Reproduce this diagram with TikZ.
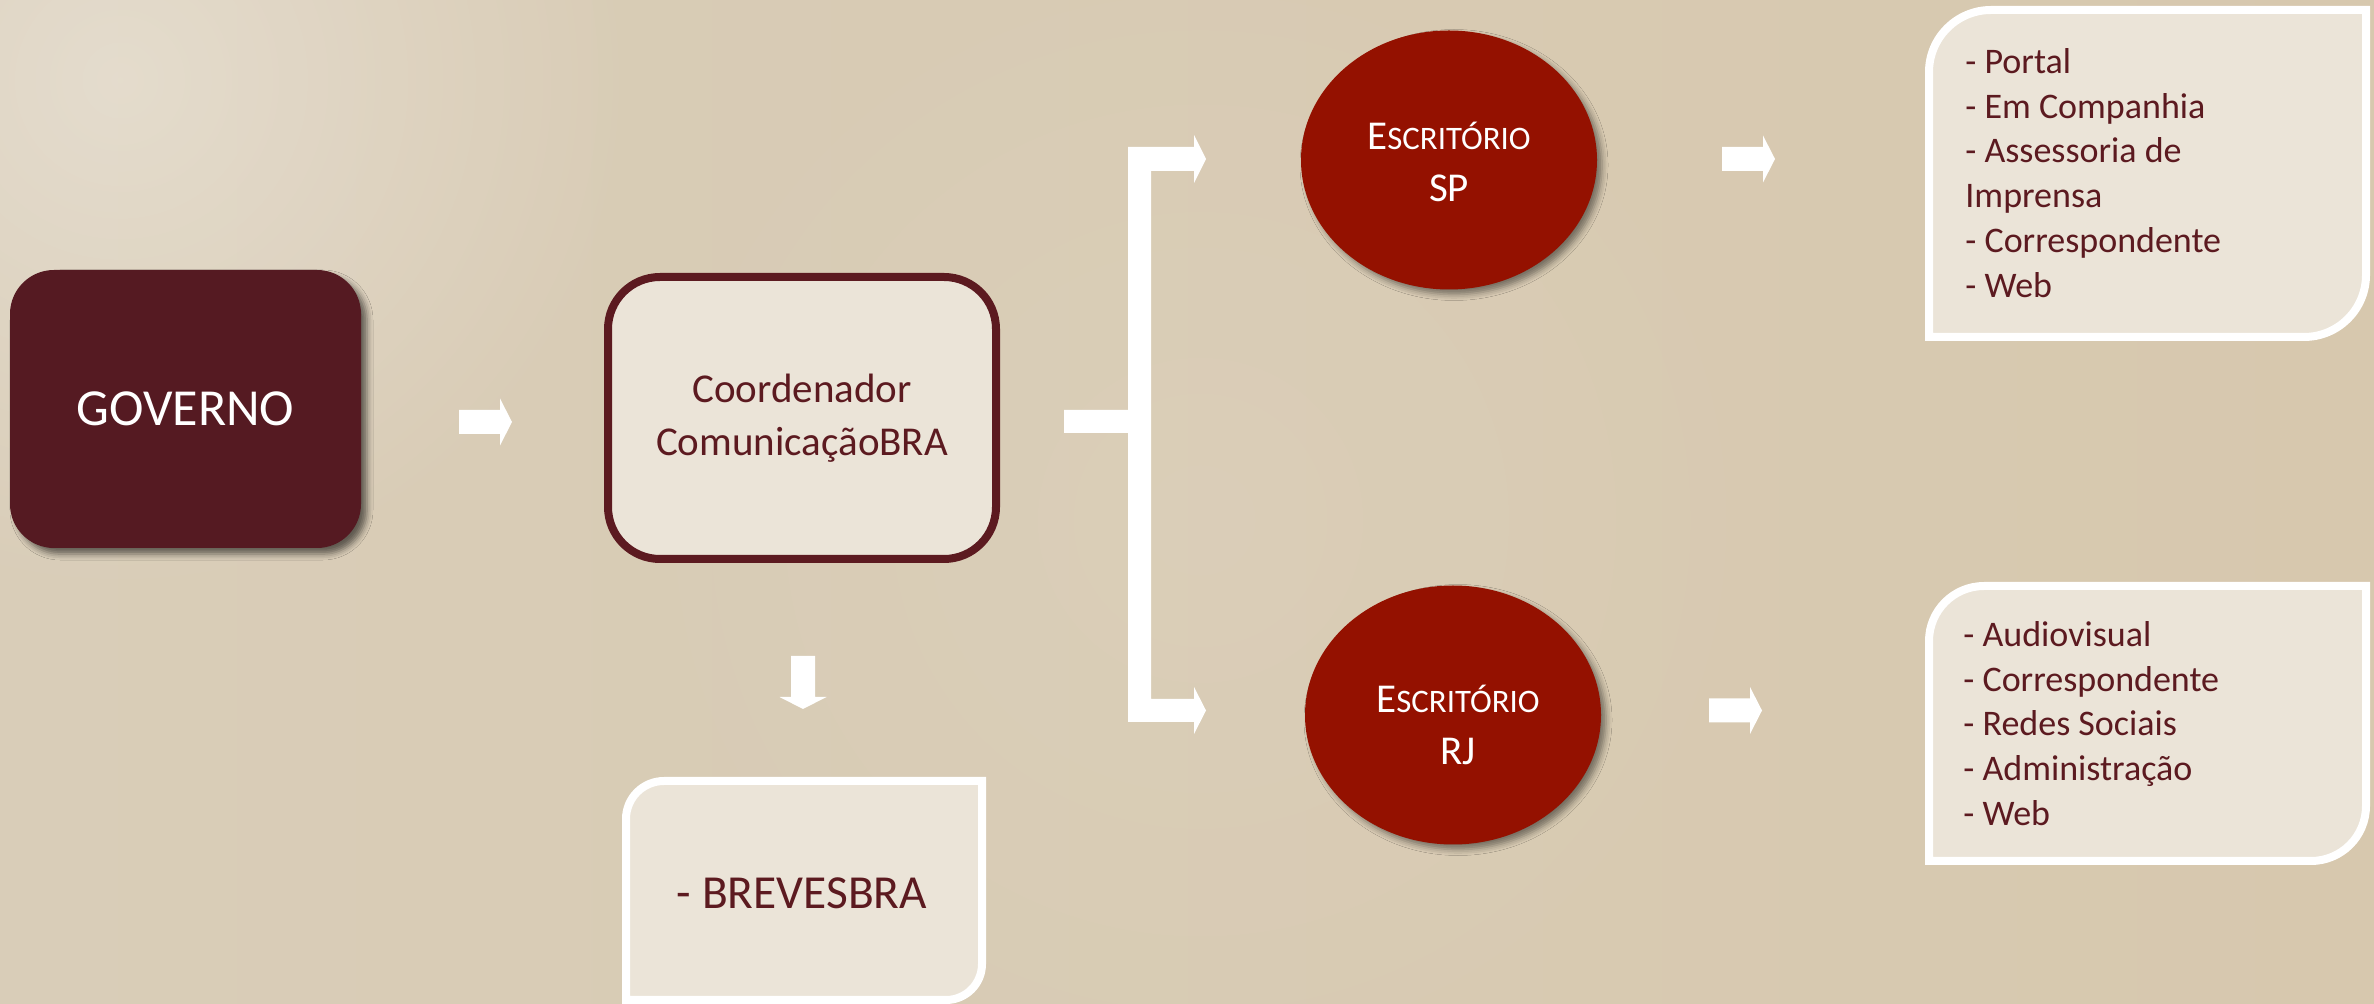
\documentclass[tikz,border=0pt]{standalone}
\usepackage{fontspec}
\setmainfont{Carlito}
\usetikzlibrary{shapes.geometric,shadows.blur,fadings}
\tikzfading[name=glowfade, inner color=transparent!0, outer color=transparent!100]
\definecolor{bgL}{HTML}{D9CDB8}
\definecolor{bgM}{HTML}{D5CAB8}
\definecolor{bgR}{HTML}{D7C8AE}
\definecolor{govred}{HTML}{551A22}
\definecolor{offred}{HTML}{941100}
\definecolor{txtred}{HTML}{5C1A20}
\definecolor{boxfill}{HTML}{EBE4D8}
\newcommand{\EscrText}{{\fontsize{20.5}{26}\selectfont E}{\fontsize{16.4}{26}\selectfont SCRITÓRIO}}
\tikzset{
  govbox/.style={rectangle, rounded corners=22pt, fill=govred, minimum width=175.5pt, minimum height=139pt, inner sep=0pt, text=white, font=\fontsize{26}{31}\selectfont,
    blur shadow={shadow xshift=3pt, shadow yshift=-3pt, shadow blur radius=3pt, shadow opacity=55}},
  coordbox/.style={rectangle, rounded corners=26pt, fill=boxfill, draw=txtred, line width=4pt, minimum width=194pt, minimum height=141pt, inner sep=0pt, align=center, text=txtred, font=\fontsize{20.5}{26.5}\selectfont},
  office/.style={ellipse, fill=offred, minimum width=148pt, minimum height=129.5pt, inner sep=0pt,
    blur shadow={shadow xshift=2.5pt, shadow yshift=-2.5pt, shadow blur radius=3pt, shadow opacity=45}},
  officetext/.style={inner sep=0pt, align=center, text=white, font=\fontsize{20.5}{26}\selectfont},
  listbox/.style={fill=boxfill, draw=white, line width=4pt},
  listtext/.style={anchor=north west, inner sep=0pt, align=left, text=txtred, font=\fontsize{18}{22.4}\selectfont},
  brevetext/.style={inner sep=0pt, text=txtred, font=\fontsize{23.7}{28}\selectfont},
  barrowfill/.style={fill=white},
  barrow/.pic={\fill[barrowfill] (0,-12) -- (41,-12) -- (41,-23.5) -- (53,0) -- (41,23.5) -- (41,12) -- (0,12) -- cycle;}
}
\begin{document}
\begin{tikzpicture}[x=0.5pt,y=-0.5pt]
\useasboundingbox (0,0) rectangle (2374,1004);
\fill[left color=bgL, middle color=bgM, right color=bgR] (0,0) rectangle (2374,1004);
\fill[white, opacity=0.3, path fading=glowfade] (120,80) circle[radius=520];
\fill[white, opacity=0.07, path fading=glowfade] (1200,520) circle[radius=650];

% main boxes
\node[govbox] (gov) at (185.5,409) {GOVERNO};
\node[coordbox] (coord) at (802,418) {Coordenador\\ComunicaçãoBRA};

% offices
\node[office] (sp) at (1449,160) {};
\node[officetext] (sptext) at (1449,162) {\EscrText\\SP};
\node[office] (rj) at (1453,715) {};
\node[officetext] (rjtext) at (1458,725) {\EscrText\\RJ};

% list boxes
\draw[listbox] (2366,10) -- (1991,10) arc[start angle=270, end angle=180, radius=62] -- (1929,337) -- (2304,337) arc[start angle=90, end angle=0, radius=62] -- cycle;
\node[listtext] (splist) at (1965,48) {- Portal\\- Em Companhia\\- Assessoria de\\Imprensa\\- Correspondente\\- Web};

\draw[listbox] (2366,586) -- (1984,586) arc[start angle=270, end angle=180, radius=55] -- (1929,861) -- (2311,861) arc[start angle=90, end angle=0, radius=55] -- cycle;
\node[listtext] (rjlist) at (1963,621) {- Audiovisual\\- Correspondente\\- Redes Sociais\\- Administração\\- Web};

\draw[listbox] (982,781) -- (664,781) arc[start angle=270, end angle=180, radius=38] -- (626,1000) -- (946,1000) arc[start angle=90, end angle=0, radius=36] -- cycle;
\node[brevetext] (breves) at (802,893) {- BREVESBRA};

% block arrows
\coordinate (a1) at (459,422);
\coordinate (a2) at (1722,159);
\coordinate (a3) at (1709,710.5);
\coordinate (a4) at (803,656);
\pic at (a1) {barrow};
\pic at (a2) {barrow};
\pic at (a3) {barrow};
\pic[rotate=-90] at (a4) {barrow};

% bracket
\coordinate (brk) at (1064,421);
\fill[barrowfill] (1064,410) -- (1128,410) -- (1128,147) -- (1194,147) -- (1194,135) -- (1206,159) -- (1194,183) -- (1194,171) -- (1151,171) -- (1151,699) -- (1194,699) -- (1194,687) -- (1206,710.5) -- (1194,734) -- (1194,722) -- (1128,722) -- (1128,433) -- (1064,433) -- cycle;
\end{tikzpicture}
\end{document}
